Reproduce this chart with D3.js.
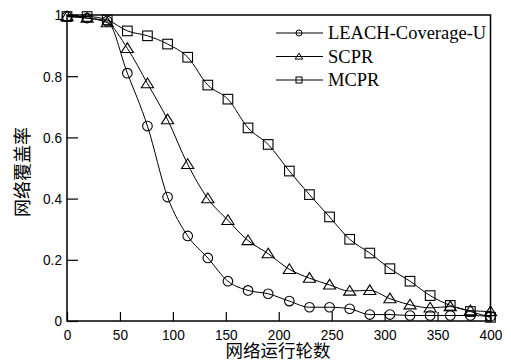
<!DOCTYPE html>
<html>
<head>
<meta charset="utf-8">
<script src="https://cdn.jsdelivr.net/npm/d3@7"></script>
<style>
  body { margin: 0; background: #fff; }
  svg { display: block; }
</style>
</head>
<body>
<svg id="chart" width="511" height="362"></svg>
<script>
// rounds sampled on the x axis
const rounds = [0, 19, 38, 57, 76, 95, 114, 133, 152, 171, 190, 210, 229, 248, 267, 286, 305, 324, 343, 362, 381, 400];

// coverage values
const leachCoverage = [0.995, 0.99, 0.98, 0.81, 0.637, 0.405, 0.278, 0.206, 0.13, 0.1, 0.089, 0.065, 0.045, 0.045, 0.04, 0.021, 0.021, 0.018, 0.018, 0.018, 0.018, 0.015];
const scpr = [0.995, 0.99, 0.975, 0.891, 0.776, 0.658, 0.512, 0.4, 0.329, 0.263, 0.22, 0.169, 0.14, 0.118, 0.098, 0.1, 0.073, 0.053, 0.043, 0.047, 0.034, 0.031];
const mcpr = [0.995, 0.995, 0.984, 0.948, 0.932, 0.905, 0.862, 0.771, 0.725, 0.631, 0.577, 0.49, 0.413, 0.34, 0.267, 0.222, 0.171, 0.13, 0.083, 0.051, 0.031, 0.012];

const seriesNames = ['LEACH-Coverage-U', 'SCPR', 'MCPR'];
const seriesValues = [leachCoverage, scpr, mcpr];
const seriesMarkers = ['circle', 'triangle', 'square'];

const xTicks = [0, 50, 100, 150, 200, 250, 300, 350, 400];
const yTicks = [0, 0.2, 0.4, 0.6, 0.8, 1];
const xTitle = '网络运行轮数';
const yTitle = '网络覆盖率';

const plotLeft = 67, plotRight = 490.5, plotTop = 15, plotBottom = 321;

const svg = d3.select('#chart');

const x = d3.scaleLinear().domain([0, 400]).range([plotLeft, plotRight]);
const y = d3.scaleLinear().domain([0, 1]).range([plotBottom, plotTop]);

// frame
svg.append('rect')
  .attr('x', plotLeft).attr('y', plotTop)
  .attr('width', plotRight - plotLeft).attr('height', plotBottom - plotTop)
  .attr('fill', 'none').attr('stroke', '#000').attr('stroke-width', 1.5);

const tickFont = 'Liberation Sans, Arial, sans-serif';

const xAxis = svg.append('g')
  .attr('transform', `translate(0,${plotBottom})`)
  .call(d3.axisBottom(x).tickValues(xTicks).tickSize(-9).tickPadding(8).tickFormat(d3.format('d')));

const yAxis = svg.append('g')
  .attr('transform', `translate(${plotLeft},0)`)
  .call(d3.axisLeft(y).tickValues(yTicks).tickSize(-11).tickPadding(5).tickFormat(d => d3.format('~g')(d)));

[xAxis, yAxis].forEach(g => {
  g.select('.domain').remove();
  g.selectAll('.tick line').attr('stroke', '#000').attr('stroke-width', 1.2);
  g.selectAll('.tick text')
    .attr('fill', '#000')
    .style('font-family', tickFont)
    .style('font-size', '15.5px')
    .each(function () {
      // the original digits are narrower than Arial
      const w = this.getComputedTextLength();
      d3.select(this).attr('textLength', w * 0.88).attr('lengthAdjust', 'spacingAndGlyphs');
    });
});

// axis titles
svg.append('text')
  .attr('x', 278).attr('y', 357)
  .attr('text-anchor', 'middle')
  .style('font-family', 'Noto Sans CJK SC, sans-serif')
  .style('font-size', '17.5px')
  .text(xTitle);

svg.append('text')
  .attr('transform', 'translate(29,172) rotate(-90)')
  .attr('text-anchor', 'middle')
  .style('font-family', 'Noto Sans CJK SC, sans-serif')
  .style('font-size', '18px')
  .text(yTitle);

// marker drawing
function marker(g, type, size) {
  if (type === 'circle') {
    g.append('circle').attr('r', size);
  } else if (type === 'square') {
    g.append('rect').attr('x', -size).attr('y', -size).attr('width', size * 2).attr('height', size * 2);
  } else {
    const h = size * 1.15;
    g.append('path').attr('d', `M0,${-h}L${h * 1.1},${h * 0.75}L${-h * 1.1},${h * 0.75}Z`);
  }
}

const line = d3.line()
  .x(d => x(d[0]))
  .y(d => y(d[1]))
  .curve(d3.curveMonotoneX);

seriesValues.forEach((vals, s) => {
  const pts = rounds.map((r, i) => [r, vals[i]]);

  svg.append('path')
    .datum(pts)
    .attr('d', line)
    .attr('fill', 'none')
    .attr('stroke', '#000')
    .attr('stroke-width', 1);

  const g = svg.append('g')
    .attr('fill', 'none')
    .attr('stroke', '#000')
    .attr('stroke-width', 1.1);

  pts.forEach(p => {
    const m = g.append('g').attr('transform', `translate(${x(p[0])},${y(p[1])})`);
    marker(m, seriesMarkers[s], 4.8);
  });
});

// legend
const legend = svg.append('g');
seriesNames.forEach((name, i) => {
  const ly = 33 + i * 23.5;
  legend.append('line')
    .attr('x1', 276).attr('x2', 323)
    .attr('y1', ly).attr('y2', ly)
    .attr('stroke', '#000').attr('stroke-width', 1);
  const m = legend.append('g')
    .attr('transform', `translate(299,${ly})`)
    .attr('fill', 'none').attr('stroke', '#000').attr('stroke-width', 1);
  marker(m, seriesMarkers[i], 3);
  legend.append('text')
    .attr('x', 328).attr('y', ly + 6)
    .style('font-family', 'Liberation Serif, Times New Roman, serif')
    .style('font-size', '18.5px')
    .text(name);
});
</script>
</body>
</html>
